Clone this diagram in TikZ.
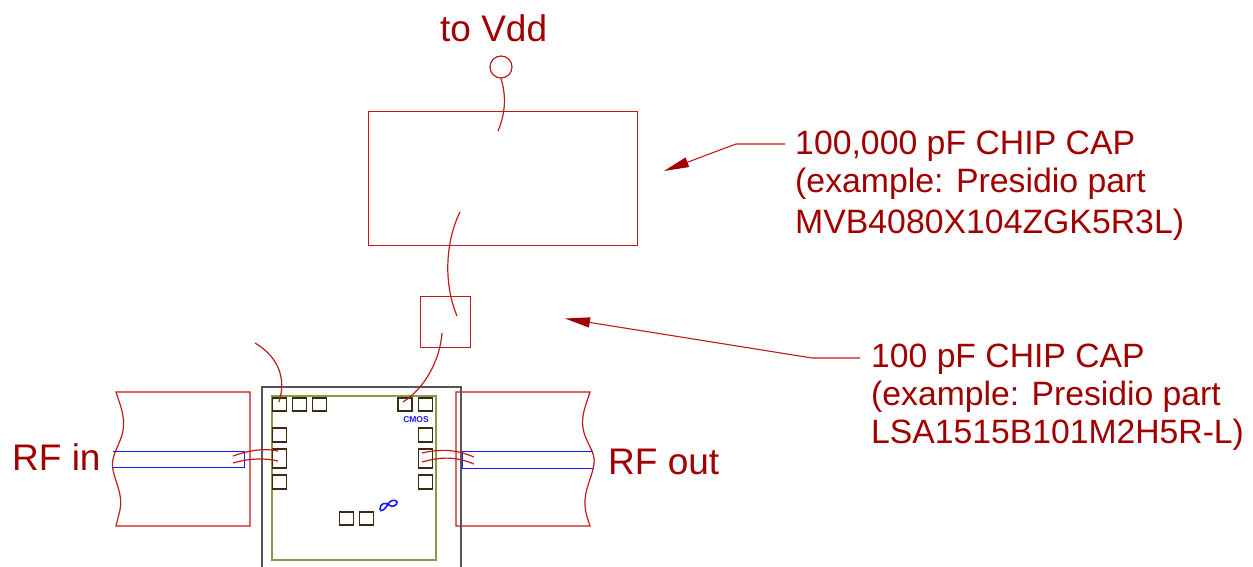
\documentclass[tikz,border=0pt]{standalone}
\usepackage{fontspec}
\setmainfont{Liberation Sans}
\usetikzlibrary{arrows.meta}
\definecolor{wire}{HTML}{C01A1A}
\definecolor{txt}{HTML}{A00000}
\definecolor{bl}{HTML}{1818F0}
\definecolor{gr}{HTML}{8A9A40}
\definecolor{pk}{HTML}{555555}
\definecolor{pad}{HTML}{3A2A14}
\tikzset{
 capbox/.style={draw=wire,line width=1.2pt,inner sep=0pt,anchor=north west},
 padbox/.style={draw=pad,line width=1.5pt,inner sep=0pt,anchor=north west},
 lbl/.style={text=txt,font=\fontsize{37}{38}\selectfont,inner sep=0pt,align=left,anchor=west},
 note/.style={text=txt,inner sep=0pt,align=left,anchor=north west},
 bond/.style={draw=wire,line width=1.2pt},
 leader/.style={draw=wire,line width=1.1pt,-{Triangle[length=25pt,width=10pt,fill=txt,color=txt]}},
 board/.style={draw=wire,line width=1.2pt},
 strip/.style={draw=bl,line width=1pt},
}
\newcommand{\padat}[5]{\node[padbox,minimum width=#4pt,minimum height=#5pt] (#1) at (#2,#3) {};}
\begin{document}
\begin{tikzpicture}[x=1pt,y=-1pt]
\useasboundingbox (0,0) rectangle (1253,567);
% boards
\draw[board] (116,392) .. controls (122,410) and (126,420) .. (122,435) .. controls (118,448) and (110,458) .. (113,470) .. controls (116,484) and (123,495) .. (120,510) -- (116,526) -- (250,526) -- (250,392) -- cycle;
\draw[board] (590,392) .. controls (586,405) and (581,415) .. (583,428) .. controls (585,442) and (596,452) .. (594,464) .. controls (592,478) and (584,490) .. (585,505) .. controls (585,512) and (588,520) .. (590,526) -- (456,526) -- (456,392) -- cycle;
\draw[strip] (113,451) -- (244,451) -- (244,467) -- (113,467);
\draw[strip] (593,451) -- (462,451) -- (462,468) -- (593,468);
% package
\draw[pk,line width=1.3pt] (262,567) -- (262,387) -- (461,387) -- (461,567);
\node[draw=gr,line width=1.5pt,inner sep=0pt,anchor=north west,minimum width=164pt,minimum height=164pt] (die) at (271,395) {};
% pads
\padat{pa}{271.5}{397}{14}{13}
\padat{pb}{291.5}{397}{14}{13}
\padat{pc}{311.5}{397}{14}{13}
\padat{pd}{397}{397}{14}{13}
\padat{pe}{417.5}{397}{14}{13}
\padat{pf}{271.5}{427}{14}{14}
\padat{pg}{271.5}{448}{14}{19}
\padat{ph}{271.5}{474}{14}{14}
\padat{pi}{417.5}{427}{14}{14}
\padat{pj}{417.5}{448}{14}{19}
\padat{pk}{417.5}{474}{14}{14}
\padat{pl}{338.5}{511}{14}{13}
\padat{pm}{358.5}{511}{14}{13}
\node[text=bl,font=\bfseries\fontsize{8.5}{9}\selectfont,inner sep=0pt] (cmos) at (416,419.5) {CMOS};
% logo
\draw[bl,line width=1.6pt] (380,509) .. controls (380,503) and (386,502) .. (389,505) .. controls (392,508) and (398,505) .. (397,502) .. controls (396,499) and (390,500) .. (388,504) .. controls (386,509) and (380,513) .. (380,509) -- cycle;
% caps
\node[capbox,minimum width=269pt,minimum height=134pt] (bigcap) at (368,111) {};
\node[capbox,minimum width=50pt,minimum height=51pt] (smallcap) at (420,296) {};
\node[draw=wire,line width=1.2pt,circle,minimum size=22pt,inner sep=0pt] (vdd) at (501,67) {};
% free ends
\coordinate (a1) at (498,131);
\coordinate (a2) at (460,212);
\coordinate (a3) at (457,316);
\coordinate (a4) at (442,333);
\coordinate (a5) at (403,402);
\coordinate (a6) at (255,343);
\coordinate (a7) at (279,402);
\draw[bond] (vdd.south) .. controls (506,95) and (506,112) .. (a1);
\draw[bond] (a2) .. controls (447,238) and (442,280) .. (a3);
\draw[bond] (a4) .. controls (440,360) and (425,388) .. (a5);
\draw[bond] (a6) .. controls (280,358) and (286,380) .. (a7);
% bond wires
\coordinate (l1) at (233,456); \coordinate (l2) at (278,451);
\coordinate (l3) at (233,463); \coordinate (l4) at (278,461);
\coordinate (r1) at (422,453); \coordinate (r2) at (474,457);
\coordinate (r3) at (422,462); \coordinate (r4) at (474,464);
\draw[bond] (l1) .. controls (250,450) and (265,448) .. (l2);
\draw[bond] (l3) .. controls (250,458) and (265,458) .. (l4);
\draw[bond] (r1) .. controls (440,449) and (455,449) .. (r2);
\draw[bond] (r3) .. controls (440,457) and (455,456) .. (r4);
% labels
\node[lbl] (tovdd) at (440,28) {to Vdd};
\node[lbl] (rfin) at (12,457) {RF in};
\node[lbl] (rfout) at (608,462) {RF out};
\node[note,font=\fontsize{33.8}{39.5}\selectfont] (n1) at (795,131) {100,000 pF CHIP CAP\\[-1.5pt](example: Presidio part\\[1.5pt]MVB4080X104ZGK5R3L)};
\node[note,font=\fontsize{33.7}{38}\selectfont] (n2) at (871,344) {100 pF CHIP CAP\\(example: Presidio part\\LSA1515B101M2H5R-L)};
% leaders
\coordinate (t1) at (785,144); \coordinate (b1) at (736,144); \coordinate (h1) at (664,171);
\coordinate (t2) at (860,358); \coordinate (b2) at (812,358); \coordinate (h2) at (565,318.5);
\draw[leader] (t1) -- (b1) -- (h1);
\draw[leader] (t2) -- (b2) -- (h2);
\end{tikzpicture}
\end{document}
